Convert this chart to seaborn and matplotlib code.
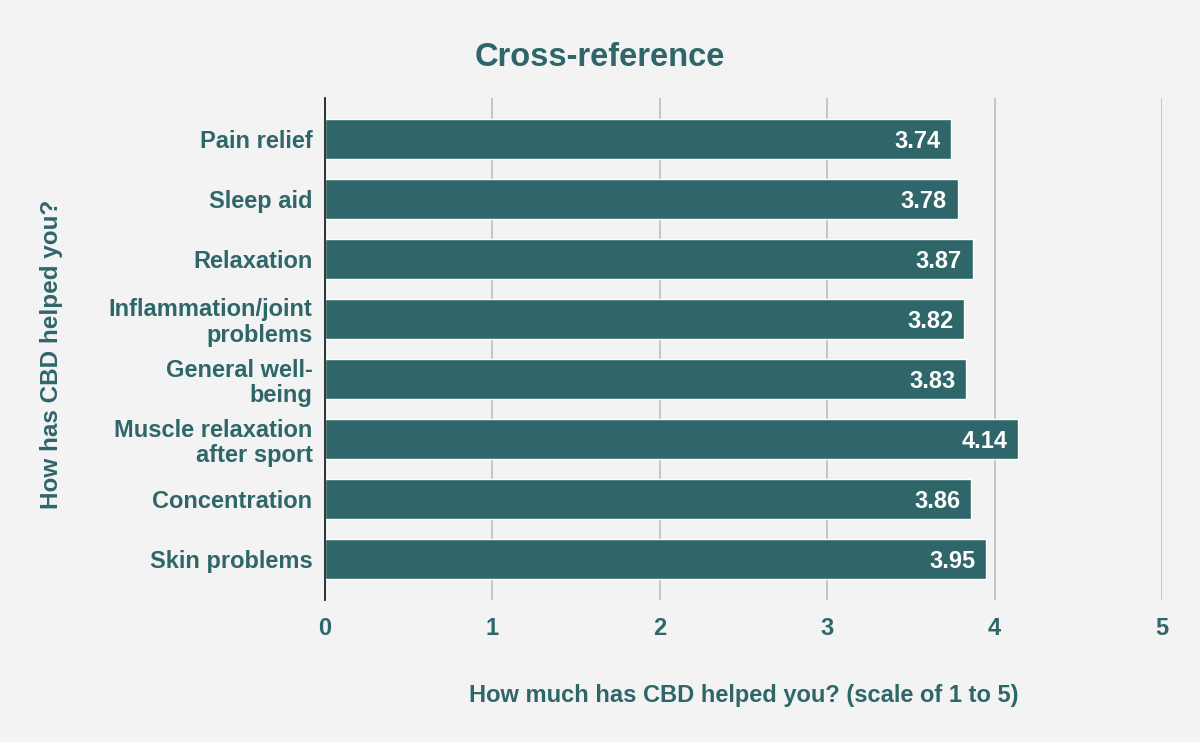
import matplotlib
matplotlib.use("Agg")
import matplotlib.pyplot as plt
import seaborn as sns
import pandas as pd

categories = [
    "Pain relief",
    "Sleep aid",
    "Relaxation",
    "Inflammation/joint\nproblems",
    "General well-\nbeing",
    "Muscle relaxation\nafter sport",
    "Concentration",
    "Skin problems",
]
scores = [3.74, 3.78, 3.87, 3.82, 3.83, 4.14, 3.86, 3.95]
x_ticks = [0, 1, 2, 3, 4, 5]

TEAL = "#2e6669"
BG = "#f3f3f3"

sns.set_theme(style="white")
plt.rcParams["font.family"] = ["Liberation Sans", "DejaVu Sans"]
plt.rcParams["font.weight"] = "bold"

df = pd.DataFrame({"category": categories, "score": scores})

fig = plt.figure(figsize=(12, 7.42), dpi=100, facecolor=BG)
ax = fig.add_axes([325 / 1200, 1 - 600 / 742, (1162 - 325) / 1200, (600 - 98) / 742])
ax.set_facecolor(BG)

sns.barplot(data=df, x="score", y="category", color=TEAL, saturation=1,
            width=0.667, ax=ax, zorder=3)

for patch, value in zip(ax.patches, scores):
    ax.text(value - 0.065, patch.get_y() + patch.get_height() / 2, f"{value:.2f}",
            ha="right", va="center_baseline", color="white", fontsize=17,
            fontweight="bold", zorder=4)

ax.set_xlim(0, 5)
ax.set_ylim(len(categories) - 0.5 + 0.18, -0.5 - 0.18)
ax.set_xticks(x_ticks)
ax.set_xticklabels([str(t) for t in x_ticks])
ax.xaxis.grid(True, color="#bdbdbd", linewidth=1.2, zorder=0)
ax.yaxis.grid(False)
for side in ["top", "right", "bottom"]:
    ax.spines[side].set_visible(False)
ax.spines["left"].set_color("#222222")
ax.spines["left"].set_linewidth(1.3)
ax.spines["left"].set_zorder(5)
ax.tick_params(axis="both", length=0, colors=TEAL, labelsize=17)
ax.tick_params(axis="x", pad=12)
ax.tick_params(axis="y", pad=9)
for lbl in ax.get_xticklabels() + ax.get_yticklabels():
    lbl.set_fontweight("bold")
    lbl.set_color(TEAL)
for lbl in ax.get_yticklabels():
    lbl.set_linespacing(1.15)

ax.set_xlabel("How much has CBD helped you? (scale of 1 to 5)", fontsize=17,
              fontweight="bold", color=TEAL, labelpad=32)
ax.set_ylabel("How has CBD helped you?", fontsize=17.5, fontweight="bold", color=TEAL)
ax.yaxis.set_label_coords(-262 / 837, 0.49)

fig.text(0.5, 1 - 57 / 742, "Cross-reference", ha="center", va="center",
         fontsize=23.5, fontweight="bold", color=TEAL)

fig.savefig("out.png", dpi=100, facecolor=BG)
